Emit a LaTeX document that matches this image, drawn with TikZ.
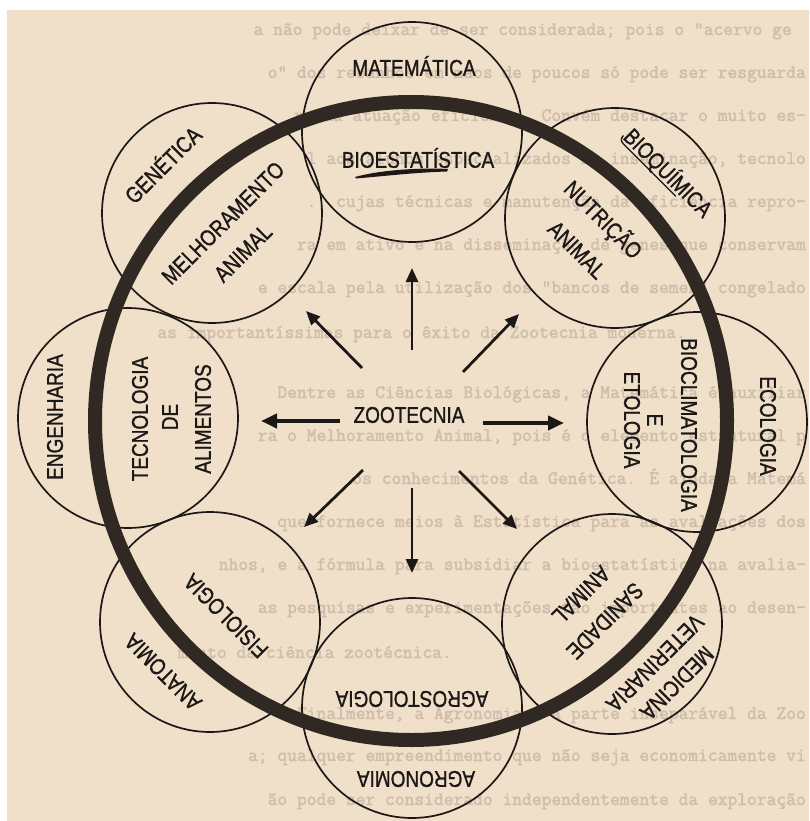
\documentclass[tikz,border=0pt]{standalone}
\usepackage{fontspec}
\usepackage{graphicx}
\setmainfont{Liberation Sans}
\newfontfamily\lettering[FakeBold=1.2]{Liberation Sans}
\newfontfamily\typewriter[FakeBold=2.2]{Latin Modern Mono}
\usetikzlibrary{arrows.meta}

\definecolor{paper}{RGB}{240,223,201}
\definecolor{ink}{RGB}{28,24,22}
\definecolor{ringink}{RGB}{48,40,34}
\definecolor{typed}{RGB}{206,190,171}

% stencil lettering: tall, slightly condensed capitals
\newcommand\tall[1]{\scalebox{1}[1.2]{#1}}

\begin{document}
\begin{tikzpicture}[x=1pt,y=-1pt,
  bubble/.style={draw=ink, line width=1.7pt, circle, minimum size=220pt, inner sep=0pt},
  lbl/.style={font=\lettering\fontsize{19}{19}\selectfont, text=ink, inner sep=0pt},
  spoke/.style={draw=ink, line width=2.8pt, -{Triangle[length=14pt,width=12pt]}},
  hspoke/.style={draw=ink, line width=4pt, -{Triangle[length=16pt,width=14pt]}},
  row/.style={font=\typewriter\fontsize{19}{19}\selectfont, text=typed, inner sep=0pt, anchor=base east},
]
\useasboundingbox (0,0) rectangle (809,821);
\fill[white] (0,0) rectangle (809,821);
\fill[paper] (7,10) rectangle (809,821);

% typed page showing through behind the chart
\begin{scope}
\clip (7,10) rectangle (809,821);
\node[row] (r0)  at (792,35)  {a não pode deixar de ser considerada; pois o "acervo ge};
\node[row] (r1)  at (806,78)  {o" dos rebanhos em mãos de poucos só pode ser resguarda};
\node[row] (r2)  at (806,121) {r sua atuação eficiente. Convém destacar o muito es-};
\node[row] (r3)  at (806,164) {l aos alunos especializados na inseminação, tecnolo};
\node[row] (r4)  at (806,207) {., cujas técnicas e manutenção da eficiência repro-};
\node[row] (r5)  at (806,250) {ra em ativo e na disseminação de genes que conservam};
\node[row] (r6)  at (806,293) {e escala pela utilização dos "bancos de semen" congelado};
\node[row] (r7)  at (686,338) {as importantíssimas para o êxito da Zootecnia moderna.};
\node[row] (r8)  at (806,398) {Dentre as Ciências Biológicas, a Matemática é auxiliar};
\node[row] (r9)  at (806,441) {ra o Melhoramento Animal, pois é o elemento estrutural p};
\node[row] (r10) at (806,484) {os conhecimentos da Genética. É ainda a Matemá};
\node[row] (r11) at (806,527) {que fornece meios à Estatística para as avaliações dos};
\node[row] (r12) at (806,570) {nhos, e a fórmula para subsidiar a bioestatística na avalia-};
\node[row] (r13) at (806,613) {as pesquisas e experimentações tão importantes ao desen-};
\node[row] (r14) at (452,658) {mento da ciência zootécnica.};
\node[row] (r15) at (806,719) {Finalmente, a Agronomia é a parte inseparável da Zoo};
\node[row] (r16) at (806,761) {a; qualquer empreendimento que não seja economicamente vi};
\node[row] (r17) at (806,805) {ão pode ser considerado independentemente da exploração};
\end{scope}

% the eight disciplines around the ring
\node[bubble] (mat)  at (412,132) {};
\node[bubble] (bioq) at (615,218) {};
\node[bubble] (eco)  at (697,422) {};
\node[bubble] (med)  at (612,624) {};
\node[bubble] (agro) at (412,708) {};
\node[bubble] (anat) at (210,622) {};
\node[bubble] (eng)  at (128,418) {};
\node[bubble] (gen)  at (212,213) {};

% the heavy ring of animal science
\draw[ringink, line width=14pt] (411,421) ellipse [x radius=316pt, y radius=319pt];

% top
\node[lbl] (tMat) at (414,66) {\tall{MATEMÁTICA}};
\node[lbl] (tBioest) at (418,158) {\tall{BIOESTATÍSTICA}};
\fill[ink] (355,177) .. controls (380,170) and (420,167.5) .. (448,169)
  -- (447,171.5) .. controls (415,172.5) and (385,176) .. (356,178.5) -- cycle;

% top right
\node[lbl, rotate=-45] (tBioq) at (668,173) {\tall{BIOQUÍMICA}};
\draw[ink, line width=1.3pt, shift={(tBioq.center)}, rotate=-45]
  (-58,5) .. controls (-58,9) and (-56,11) .. (-52,11) -- (22,11);
\node[lbl, rotate=-45] (tNutr) at (603,220) {\tall{NUTRIÇÃO}};
\node[lbl, rotate=-45] (tAnimA) at (577,250) {\tall{ANIMAL}};

% right
\node[lbl, rotate=-90] (tEco) at (768,426) {\tall{ECOLOGIA}};
\node[lbl, rotate=-90] (tBiocl) at (689,425) {\tall{BIOCLIMATOLOGIA}};
\node[lbl, rotate=-90] (tE) at (655,420) {\tall{E}};
\node[lbl, rotate=-90] (tEtol) at (632,420) {\tall{ETOLOGIA}};

% bottom right
\node[lbl, rotate=-135] (tMed) at (677,683) {\tall{MEDICINA}};
\node[lbl, rotate=-135] (tVet) at (655,663) {\tall{VETERINARIA}};
\node[lbl, rotate=-135] (tSan) at (605,621) {\tall{SANIDADE}};
\node[lbl, rotate=-135] (tAnimB) at (581,595) {\tall{ANIMAL}};

% bottom
\node[lbl, rotate=180] (tAgrost) at (412,699) {\tall{AGROSTOLOGIA}};
\node[lbl, rotate=180] (tAgron) at (416,779) {\tall{AGRONOMIA}};

% bottom left
\node[lbl, rotate=135] (tFis) at (226,616) {\tall{FISIOLOGIA}};
\node[lbl, rotate=135] (tAnat) at (163,672) {\tall{ANATOMIA}};

% left
\node[lbl, rotate=90] (tEng) at (55,417) {\tall{ENGENHARIA}};
\node[lbl, rotate=90] (tTec) at (140,419) {\tall{TECNOLOGIA}};
\node[lbl, rotate=90] (tDe) at (170,417) {\tall{DE}};
\node[lbl, rotate=90] (tAlim) at (203,419) {\tall{ALIMENTOS}};

% top left
\node[lbl, rotate=45] (tGen) at (162,164) {\tall{GENÉTICA}};
\node[lbl, rotate=45] (tMelh) at (223,223) {\tall{MELHORAMENTO}};
\node[lbl, rotate=45] (tAnimC) at (243,253) {\tall{ANIMAL}};

% centre and its spokes
\node[lbl] (zoo) at (409,415) {\tall{ZOOTECNIA}};

\coordinate (nS) at (412,350);  \coordinate (nE) at (412,268);
\coordinate (neS) at (463,372); \coordinate (neE) at (519,314);
\coordinate (eS) at (483,423);  \coordinate (eE) at (564,423);
\coordinate (seS) at (459,471); \coordinate (seE) at (517,529);
\coordinate (sS) at (412,488);  \coordinate (sE) at (412,573);
\coordinate (swS) at (363,470); \coordinate (swE) at (304,527);
\coordinate (wS) at (340,421);  \coordinate (wE) at (261,421);
\coordinate (nwS) at (362,368); \coordinate (nwE) at (306,311);

\draw[spoke] (nS) -- (nE);
\draw[spoke] (neS) -- (neE);
\draw[hspoke] (eS) -- (eE);
\draw[spoke] (seS) -- (seE);
\draw[spoke] (sS) -- (sE);
\draw[spoke] (swS) -- (swE);
\draw[hspoke] (wS) -- (wE);
\draw[spoke] (nwS) -- (nwE);
\end{tikzpicture}
\end{document}
